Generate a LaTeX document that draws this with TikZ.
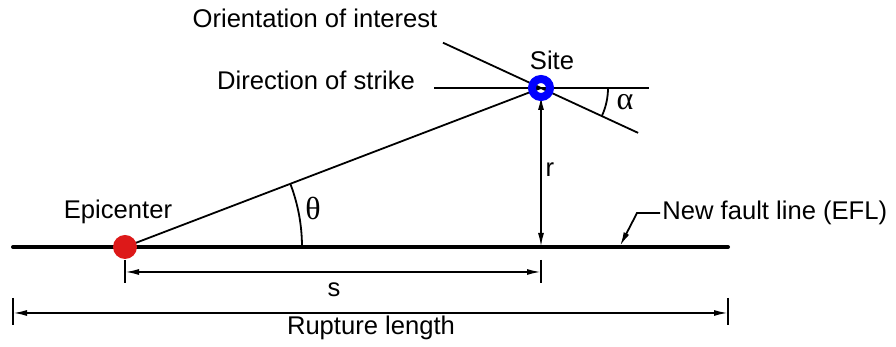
\documentclass[tikz,border=0pt]{standalone}
\usepackage{fontspec}
\setmainfont{Liberation Sans}
\newfontfamily\greekfont{Liberation Serif}
\usetikzlibrary{arrows.meta,calc}

\begin{document}
\begin{tikzpicture}[x=0.5pt, y=0.5pt, font=\fontsize{12.8}{15}\selectfont, >={Latex[length=7pt,width=3pt]}]
\tikzset{
  ln/.style={line width=0.9pt},
  dim/.style={ln, <->},
  greek/.style={font=\fontsize{16}{18}\selectfont\greekfont}
}
\useasboundingbox (0,0) rectangle (896,347);
% main points
\coordinate (fl)   at (13,100);
\coordinate (fr)   at (728,100);
\coordinate (epi)  at (125,100);
\coordinate (site) at (541,259);
\coordinate (foot) at (541,100);
\coordinate (tip)  at (620,101);
\coordinate (kink) at (637,134);
% fault and ray
\draw[line width=2pt, line cap=round] (fl) -- (fr);
\draw[ln] (epi) -- (site);
\draw[ln] ($(site)+(-107,0)$) -- ($(site)+(108,0)$);
\draw[ln] ($(site)+(155.2:108)$) -- ($(site)+(-24.8:107)$);
\draw[dim] (foot) -- ([yshift=-4pt]site);
% angles
\draw[ln] ($(epi)+(177,0)$) arc[start angle=0, end angle=20.9, radius=177];
\draw[ln] ($(site)+(67,0)$) arc[start angle=0, end angle=-24.8, radius=67];
% dimensions
\draw[ln] ($(epi)+(0,-13)$) -- ($(epi)+(0,-36)$);
\draw[ln] ($(foot)+(0,-13)$) -- ($(foot)+(0,-36)$);
\draw[dim] ($(epi)+(0,-25)$) -- ($(foot)+(0,-25)$);
\draw[ln] ($(fl)+(0,-51)$) -- ($(fl)+(0,-78)$);
\draw[ln] ($(fr)+(0,-51)$) -- ($(fr)+(0,-78)$);
\draw[dim] ($(fl)+(0,-66)$) -- ($(fr)+(0,-66)$);
% markers
\fill[red!85!black!90] (epi) circle[radius=12];
\draw[blue, line width=4pt] (site) circle[radius=9];
% labels
\node (orient) at (315,329) {Orientation of interest};
\node (strike) at (316,267) {Direction of strike};
\node (sitel)  at (552,287) {Site};
\node (epil)   at (118,135) {Epicenter};
\node[greek] (th) at (313,139) {θ};
\node[greek] (al) at (625,245) {α};
\node (rl)     at (550,177) {r};
\node (sl)     at (334,57)  {s};
\node (rup)    at (371,19)  {Rupture length};
\node[anchor=west, inner sep=1pt] (efl) at (660,134) {New fault line (EFL)};
\draw[ln, ->] (efl.west) -- (kink) -- (tip);
\end{tikzpicture}
\end{document}
